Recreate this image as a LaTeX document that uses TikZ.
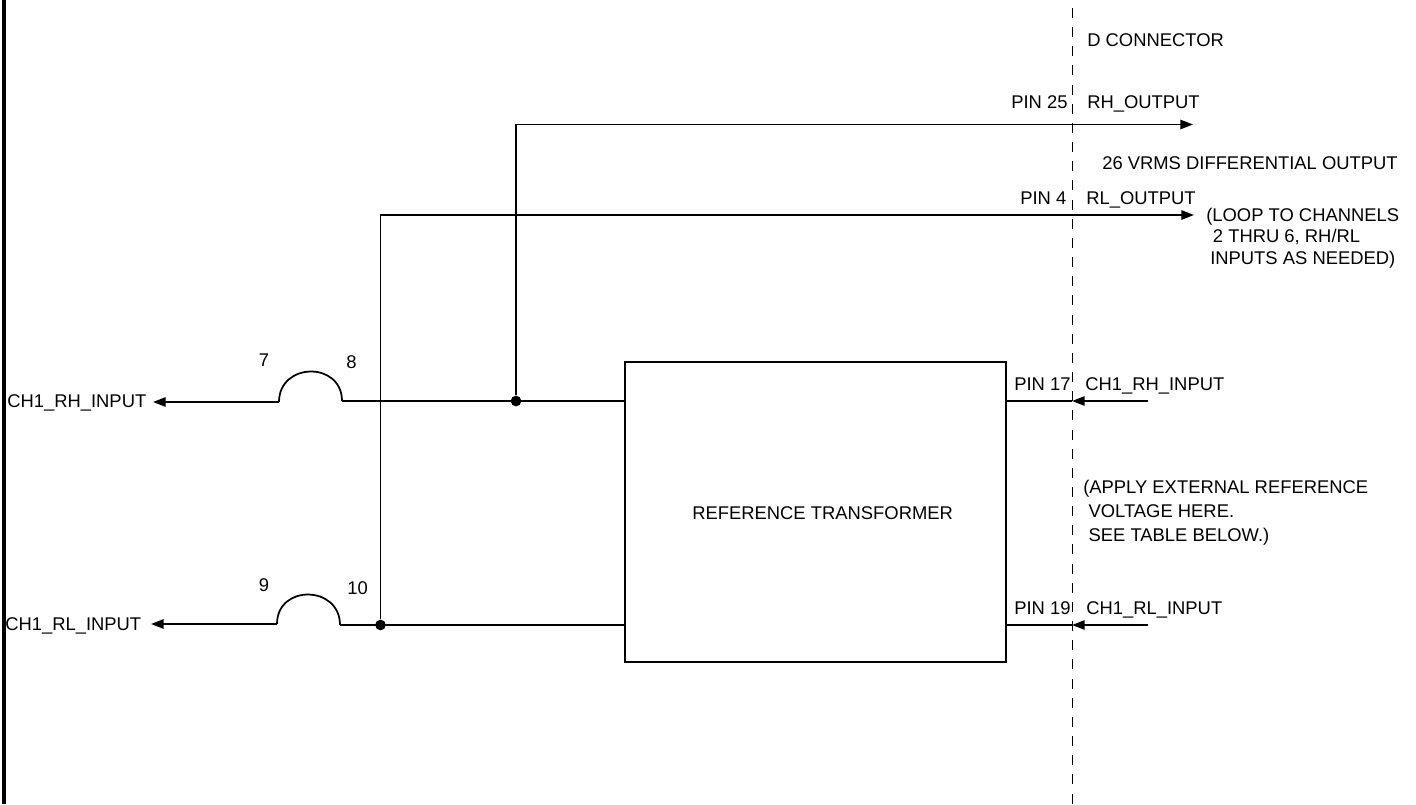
\documentclass[tikz,border=0pt]{standalone}
\usepackage{fontspec}
\setmainfont{Liberation Sans}
\usetikzlibrary{
        arrows.meta,
        positioning
    }
\tikzset{>={Triangle[length=9.5pt,width=7pt]},auto}
\tikzset{wire/.style={line width=1.3pt}}
\tikzset{lbl/.style={anchor=base west,inner sep=0pt,font=\fontsize{13.8pt}{16pt}\selectfont}}
\tikzset{note/.style={anchor=north west,inner sep=0pt,align=left,font=\fontsize{13.8pt}{16pt}\selectfont}}
\tikzset{junction/.style={circle,fill=black,inner sep=0pt,minimum size=8pt}}

\begin{document}
\begin{tikzpicture}[x=0.75pt,y=0.75pt]
                    \useasboundingbox (0,0) rectangle (1416,804);
                        \node[draw,line width=1.3pt,minimum width=285.75pt,minimum height=225pt,inner sep=0pt]  (xfmr) at (815.5,292) {};
                        \node[lbl] (xfmrtxt) at (692,285) {REFERENCE TRANSFORMER};
                        \coordinate (frametop) at (4,804);
                        \coordinate (framebot) at (4,0);
                        \coordinate (dtop) at (1072.5,796);
                        \coordinate (dbot) at (1072.5,0);
                        \coordinate (rhend) at (1193,679.5);
                        \coordinate (rlend) at (1194,589);
                        \node[junction] (jrh) at (516,403) {};
                        \node[junction] (jrl) at (380.5,179) {};
                        \coordinate (xrh) at (625,403);
                        \coordinate (xrl) at (625,179);
                        \coordinate (f7) at (279,402);
                        \coordinate (f8) at (342,403);
                        \coordinate (f9) at (277,180);
                        \coordinate (f10) at (340,179);
                        \coordinate (arh) at (153,402);
                        \coordinate (arl) at (151,180);
                        \coordinate (prh) at (1006,403);
                        \coordinate (prl) at (1006,179);
                        \coordinate (crh) at (1072,403);
                        \coordinate (crl) at (1072,179);
                        \coordinate (srh) at (1148,403);
                        \coordinate (srl) at (1148,179);
                    \draw[line width=2.3pt] (frametop) -- (framebot);
                    \draw[wire,dash pattern=on 7.5pt off 6.87pt] (dtop) -- (dbot);
                    \draw[wire,->] (jrh) |- (rhend);
                    \draw[wire,->] (jrl) |- (rlend);
                    \path[wire,->]
                            (f7)  edge (arh)
                            (f9)  edge (arl)
                            (srh)  edge (crh)
                            (srl)  edge (crl)
                            ;
                    \path[wire]
                            (f8)  edge (xrh)
                            (f10)  edge (xrl)
                            (prh)  edge (crh)
                            (prl)  edge (crl)
                            (f7)  edge[out=90,in=90,looseness=1.62] (f8)
                            (f9)  edge[out=90,in=90,looseness=1.62] (f10)
                            ;
                        \node[lbl] (rhin) at (7,397) {CH1\_RH\_INPUT};
                        \node[lbl] (rlin) at (5,174) {CH1\_RL\_INPUT};
                        \node[lbl] (p7) at (258.5,437) {7};
                        \node[lbl] (p8) at (346,435) {8};
                        \node[lbl] (p9) at (258.5,213) {9};
                        \node[lbl] (p10) at (347,210) {10};
                        \node[lbl] (dconn) at (1087,757) {D CONNECTOR};
                        \node[lbl] (pin25) at (1011,695) {PIN 25};
                        \node[lbl] (rhout) at (1087,695) {RH\_OUTPUT};
                        \node[lbl] (vrms) at (1102,634) {26 VRMS DIFFERENTIAL OUTPUT};
                        \node[lbl] (pin4) at (1020,599) {PIN 4};
                        \node[lbl] (rlout) at (1086,599) {RL\_OUTPUT};
                        \node[lbl] (pin17) at (1014,413) {PIN 17};
                        \node[lbl] (chrh) at (1085,413) {CH1\_RH\_INPUT};
                        \node[lbl] (pin19) at (1014,190) {PIN 19};
                        \node[lbl] (chrl) at (1086,190) {CH1\_RL\_INPUT};
                        \node[note] (loop) at (1206,596) {(LOOP TO CHANNELS\\[0pt]\hspace*{5pt}2 THRU 6, RH/RL\\[0pt]\hspace*{3pt}INPUTS AS NEEDED)};
                        \node[note] (apply) at (1083,324) {(APPLY EXTERNAL REFERENCE\\[2pt]\hspace*{4pt}VOLTAGE HERE.\\[2pt]\hspace*{4pt}SEE TABLE BELOW.)};
            \end{tikzpicture}
\end{document}
